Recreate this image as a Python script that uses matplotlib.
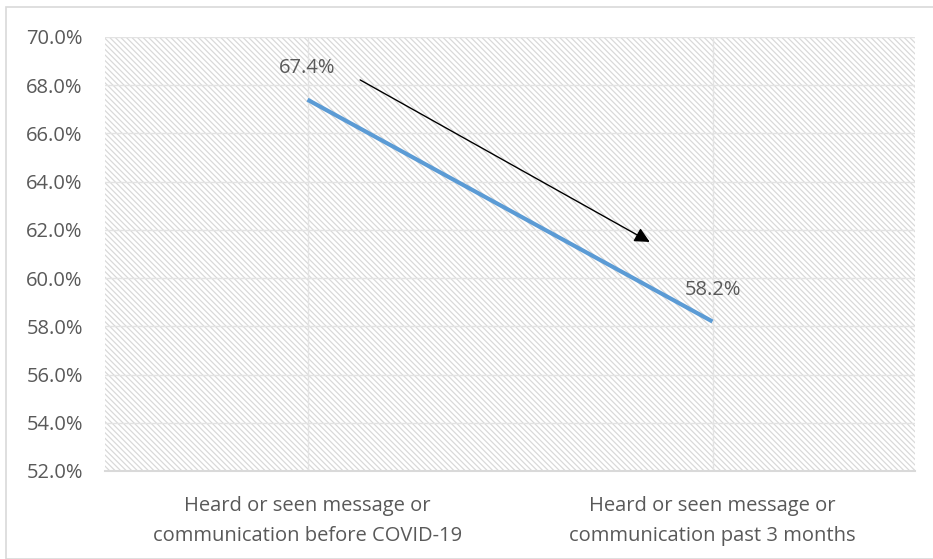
import matplotlib.pyplot as plt
from matplotlib.patches import Rectangle
from matplotlib.ticker import FuncFormatter

# Data
categories = ["Heard or seen message or\ncommunication before COVID-19",
              "Heard or seen message or\ncommunication past 3 months"]
values = [67.4, 58.2]
yticks = [52, 54, 56, 58, 60, 62, 64, 66, 68, 70]

plt.rcParams['font.family'] = ['Open Sans', 'DejaVu Sans']
plt.rcParams['hatch.color'] = '#d9d9d9'
plt.rcParams['hatch.linewidth'] = 0.9

W, H = 933, 559
fig = plt.figure(figsize=(W / 100, H / 100), dpi=100)

# chart area border (runs off the right/bottom edge)
fig.patches.append(Rectangle((6 / W, 0), 1.2, 1 - 7 / H, transform=fig.transFigure,
                             fill=False, edgecolor='#d9d9d9', linewidth=1.2))

left, right, top, bottom = 105, 915, 37, 471
ax = fig.add_axes([left / W, 1 - bottom / H, (right - left) / W, (bottom - top) / H])

# hatched plot area
ax.add_patch(Rectangle((0, 0), 1, 1, transform=ax.transAxes, facecolor='white',
                       edgecolor='#d9d9d9', hatch='\\' * 6, linewidth=0, zorder=0))

x = list(range(len(categories)))
ax.plot(x, values, color='#5b9bd5', linewidth=3.0, solid_capstyle='butt', zorder=3)

for xi, v in zip(x, values):
    ax.annotate(f"{v:.1f}%", (xi, v), xytext=(0, 23), textcoords='offset points',
                ha='center', va='center', fontsize=14.5, color='#595959')

# trend arrow
ax.annotate('', xy=(0.845, 61.5), xytext=(0.13, 68.22),
            arrowprops=dict(arrowstyle='-|>,head_length=0.9,head_width=0.45',
                            color='black', lw=1.0, shrinkA=0, shrinkB=0), zorder=4)

ax.set_xlim(-0.5, 1.5)
ax.set_ylim(52, 70)
ax.set_yticks(yticks)
ax.yaxis.set_major_formatter(FuncFormatter(lambda v, p: f"{v:.1f}%"))
ax.set_xticks(x)
ax.set_xticklabels(categories, linespacing=1.68)

ax.grid(True, color='#e3e3e3', linewidth=1.0, zorder=1)
ax.set_axisbelow(True)
ax.tick_params(length=0, labelsize=14.5, labelcolor='#595959')
ax.tick_params(axis='y', pad=16)
ax.tick_params(axis='x', pad=18)

for s in ['top', 'right', 'left']:
    ax.spines[s].set_visible(False)
ax.spines['bottom'].set_color('#d9d9d9')
ax.spines['bottom'].set_linewidth(1.5)

fig.savefig('out.png', dpi=100)
